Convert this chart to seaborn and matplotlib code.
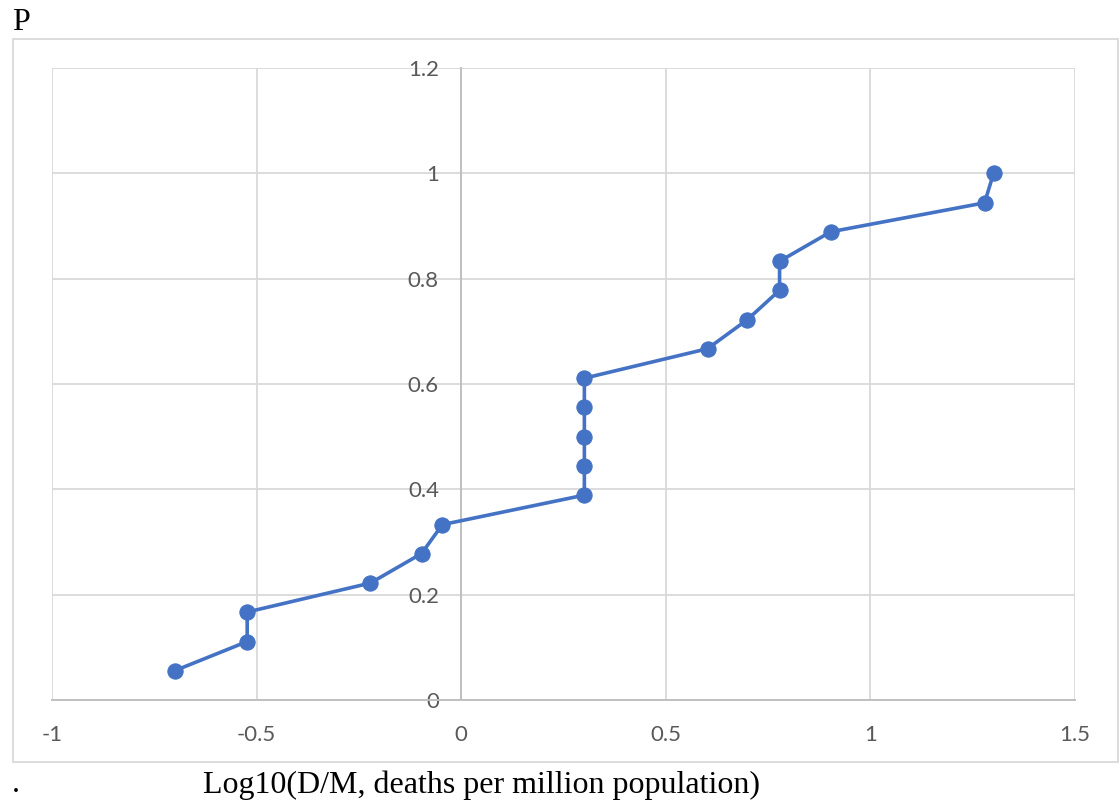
import matplotlib
matplotlib.use("Agg")
import matplotlib.pyplot as plt
import seaborn as sns
import pandas as pd
from matplotlib.patches import Rectangle

# Data
log_dm = [-0.699, -0.523, -0.523, -0.222, -0.097, -0.046, 0.301, 0.301, 0.301,
          0.301, 0.301, 0.602, 0.699, 0.778, 0.778, 0.903, 1.279, 1.301]
prob = [0.056, 0.111, 0.167, 0.222, 0.278, 0.333, 0.389, 0.444, 0.500,
        0.556, 0.611, 0.667, 0.722, 0.778, 0.833, 0.889, 0.944, 1.000]
x_ticks = [-1, -0.5, 0, 0.5, 1, 1.5]
x_tick_labels = ["-1", "-0.5", "0", "0.5", "1", "1.5"]
y_ticks = [0, 0.2, 0.4, 0.6, 0.8, 1.0, 1.2]
y_tick_labels = ["0", "0.2", "0.4", "0.6", "0.8", "1", "1.2"]
x_label = "Log10(D/M, deaths per million population)"
y_label = "P"

df = pd.DataFrame({"x": log_dm, "y": prob})

sns.set_theme(style="white")
plt.rcParams["font.family"] = ["Lato", "DejaVu Sans"]

W, H = 1120, 802
fig = plt.figure(figsize=(W / 100, H / 100), dpi=100)
ax = fig.add_axes([52 / W, 1 - 700 / H, (1075 - 52) / W, (700 - 68) / H])

# outer chart border
fig.patches.append(Rectangle((12.5 / W, 1 - 762 / H), (1118 - 12.5) / W, (762 - 39) / H,
                             transform=fig.transFigure, fill=False,
                             edgecolor="#D9D9D9", linewidth=1.3, zorder=0))

sns.lineplot(data=df, x="x", y="y", ax=ax, estimator=None, sort=False,
             color="#4472C4", linewidth=2.6, marker="o", markersize=11,
             markeredgecolor="#4472C4", markerfacecolor="#4472C4", zorder=5)

ax.set_xlim(-1, 1.5)
ax.set_ylim(0, 1.2)
ax.set_xticks(x_ticks)
ax.set_xticklabels(x_tick_labels)
ax.set_yticks(y_ticks)
ax.set_yticklabels(y_tick_labels)
ax.set_xlabel("")
ax.set_ylabel("")

ax.grid(True, color="#D9D9D9", linewidth=1.3)
ax.set_axisbelow(True)

for s in ["top", "right"]:
    ax.spines[s].set_visible(False)
ax.spines["left"].set_position(("data", 0))
ax.spines["left"].set_color("#C0C0C0")
ax.spines["left"].set_linewidth(1.4)
ax.spines["bottom"].set_color("#C0C0C0")
ax.spines["bottom"].set_linewidth(1.4)

ax.tick_params(axis="both", length=0, labelsize=16, labelcolor="#595959")
ax.tick_params(axis="x", pad=18)
ax.tick_params(axis="y", pad=16)

serif = "Liberation Serif"
fig.text(12 / W, 1 - 22 / H, y_label, fontsize=23, family=serif,
         va="center", ha="left", color="black")
fig.text(203 / W, 1 - 785 / H, x_label, fontsize=23, family=serif,
         va="center", ha="left", color="black")
fig.text(12 / W, 1 - 785 / H, ".", fontsize=23, family=serif,
         va="center", ha="left", color="black")

fig.savefig("out.png", dpi=100)
